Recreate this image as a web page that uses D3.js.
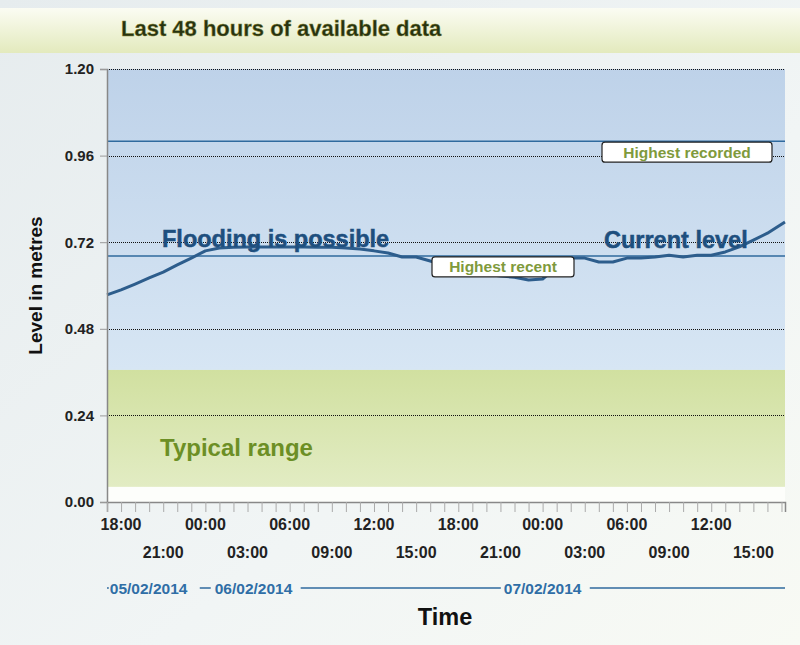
<!DOCTYPE html>
<html>
<head>
<meta charset="utf-8">
<script src="https://cdn.jsdelivr.net/npm/d3@7"></script>
<style>
  body { margin: 0; background: #fff; }
  svg { display: block; font-family: "Liberation Sans", Arial, sans-serif; }
</style>
</head>
<body>
<div id="chart"></div>
<script>
// hourly readings, 05/02/2014 17:00 -> 07/02/2014 17:00
const startTime = "2014-02-05T17:00";
const endTime = "2014-02-07T17:15";
const levels = [
  0.574, 0.588, 0.604, 0.621, 0.637, 0.657, 0.676, 0.696, 0.704, 0.706,
  0.707, 0.707, 0.707, 0.707, 0.707, 0.706, 0.706, 0.704, 0.701, 0.696,
  0.690, 0.679, 0.679, 0.668, 0.657, 0.649, 0.640, 0.632, 0.626, 0.623,
  0.615, 0.618, 0.651, 0.676, 0.676, 0.665, 0.665, 0.676, 0.676, 0.679,
  0.684, 0.679, 0.684, 0.684, 0.693, 0.707, 0.726, 0.745, 0.770
];
const lastLevel = 0.776;
const yTicks = [0.00, 0.24, 0.48, 0.72, 0.96, 1.20];
const typicalRange = [0.042, 0.366];
const highestRecorded = 1.00;
const highestRecent = 0.682;
const dateLabels = ["05/02/2014", "06/02/2014", "07/02/2014"];
const dateLabelTimes = ["2014-02-05T17:12", "2014-02-06T00:40", "2014-02-07T00:00"];

const W = 800, H = 645;
const margin = { left: 107, right: 15, top: 69, bottom: 143 };
const parse = d3.timeParse("%Y-%m-%dT%H:%M");
const t0 = parse(startTime);
const series = levels.map((v, i) => ({ t: d3.timeHour.offset(t0, i), v }));
series.push({ t: parse("2014-02-07T17:15"), v: lastLevel });

const svg = d3.select("#chart").append("svg")
  .attr("width", W).attr("height", H);

const defs = svg.append("defs");
const grad = (id, x2, y2, stops) => {
  const g = defs.append("linearGradient").attr("id", id)
    .attr("x1", 0).attr("y1", 0).attr("x2", x2).attr("y2", y2);
  stops.forEach(s => g.append("stop").attr("offset", s[0]).attr("stop-color", s[1]));
};
grad("bgGrad", 1, 1, [["0", "#e6ecee"], ["0.6", "#f1f5f5"], ["1", "#f8faf4"]]);
grad("titleGrad", 0, 1, [["0", "#fbfcf3"], ["1", "#e3eabd"]]);
grad("blueGrad", 0, 1, [["0", "#bed2e9"], ["1", "#d7e6f4"]]);
grad("greenGrad", 0, 1, [["0", "#d1e0a0"], ["1", "#e2ecc3"]]);

svg.append("rect").attr("width", W).attr("height", H).attr("fill", "url(#bgGrad)");
svg.append("rect").attr("y", 8).attr("width", W).attr("height", 45).attr("fill", "url(#titleGrad)");
svg.append("text")
  .attr("x", 121).attr("y", 36)
  .attr("font-size", 22).attr("font-weight", "bold").attr("fill", "#263212")
  .attr("stroke", "#8c8a30").attr("stroke-width", 0.4)
  .text("Last 48 hours of available data");

const x = d3.scaleTime()
  .domain([t0, parse(endTime)])
  .range([margin.left, W - margin.right]);
const y = d3.scaleLinear()
  .domain([0, 1.2])
  .range([H - margin.bottom, margin.top]);

// bands
const plot = svg.append("g");
plot.append("rect")
  .attr("x", x.range()[0]).attr("width", x.range()[1] - x.range()[0])
  .attr("y", y(1.2)).attr("height", y(0) - y(1.2))
  .attr("fill", "#fdfefb");
plot.append("rect")
  .attr("x", x.range()[0]).attr("width", x.range()[1] - x.range()[0])
  .attr("y", y(1.2)).attr("height", y(typicalRange[1]) - y(1.2))
  .attr("fill", "url(#blueGrad)");
plot.append("rect")
  .attr("x", x.range()[0]).attr("width", x.range()[1] - x.range()[0])
  .attr("y", y(typicalRange[1])).attr("height", y(typicalRange[0]) - y(typicalRange[1]))
  .attr("fill", "url(#greenGrad)");

// dotted grid
plot.selectAll(".grid").data(yTicks.filter(d => d > 0)).enter().append("line")
  .attr("x1", x.range()[0]).attr("x2", x.range()[1])
  .attr("y1", d => Math.round(y(d)) + 0.5).attr("y2", d => Math.round(y(d)) + 0.5)
  .attr("stroke", "#111").attr("stroke-width", 1)
  .style("stroke-dasharray", "1, 1");

// reference lines
[highestRecorded, highestRecent].forEach(v => {
  plot.append("line")
    .attr("x1", x.range()[0]).attr("x2", x.range()[1])
    .attr("y1", y(v)).attr("y2", y(v))
    .attr("stroke", "#2f6a9e").attr("stroke-width", 1.5);
});

// level line
plot.append("path").datum(series)
  .attr("fill", "none").attr("stroke", "#2d5d8c").attr("stroke-width", 3)
  .attr("stroke-linejoin", "round")
  .attr("d", d3.line().x(d => x(d.t)).y(d => y(d.v)).curve(d3.curveLinear));

// boxed labels
const boxLabel = (text, cx, top, w) => {
  plot.append("rect")
    .attr("x", cx - w / 2).attr("y", top).attr("width", w).attr("height", 20)
    .attr("rx", 3).attr("fill", "#fff").attr("stroke", "#222").attr("stroke-width", 1.2);
  plot.append("text")
    .attr("x", cx).attr("y", top + 15.5).attr("text-anchor", "middle")
    .attr("font-size", 15.5).attr("font-weight", "bold").attr("fill", "#7f9a3c")
    .text(text);
};
boxLabel("Highest recorded", 687, y(highestRecorded) + 1, 170);
boxLabel("Highest recent", 503, y(highestRecent) + 1, 142);

const bigLabel = (text, xx, yy, col) => {
  plot.append("text")
    .attr("x", xx).attr("y", yy)
    .attr("font-size", 23.5).attr("font-weight", "bold").attr("fill", col)
    .attr("stroke", col).attr("stroke-width", 0.5)
    .text(text);
};
bigLabel("Flooding is possible", 162, 247, "#1e4f7e");
bigLabel("Current level", 604, 248, "#1e4f7e");
plot.append("text")
  .attr("x", 160).attr("y", 456)
  .attr("font-size", 24).attr("font-weight", "bold").attr("fill", "#6c8f25")
  .text("Typical range");

// axes
const yAxis = d3.axisLeft(y).tickValues(yTicks).tickFormat(d3.format(".2f")).tickSize(7).tickPadding(6);
const gy = svg.append("g").attr("transform", `translate(${margin.left},0)`).call(yAxis);
gy.select(".domain").attr("stroke", "#888").attr("stroke-width", 1.5);
gy.selectAll(".tick line").attr("stroke", "#999");
gy.selectAll("text").attr("font-size", 15).attr("font-weight", "bold").attr("fill", "#222")
  .attr("font-family", "Liberation Sans, Arial, sans-serif");

const xAxis = d3.axisBottom(x).ticks(d3.timeHour.every(1)).tickSize(10).tickFormat("");
const gx = svg.append("g").attr("transform", `translate(0,${y(0)})`).call(xAxis);
gx.select(".domain").attr("stroke", "#888").attr("stroke-width", 1.5);
gx.selectAll(".tick line").attr("stroke", "#aaa");

const hourFmt = d3.timeFormat("%H:%M");
const labelTicks = x.ticks(d3.timeHour.every(3));
svg.append("g").selectAll("text").data(labelTicks).enter().append("text")
  .attr("x", d => x(d))
  .attr("y", d => (d.getHours() % 6 === 0 ? 530 : 558))
  .attr("text-anchor", "middle")
  .attr("font-size", 16).attr("font-weight", "bold").attr("fill", "#222")
  .text(d => hourFmt(d));

// date row: labels with connecting lines in the gaps
const dateY = 594;
const dates = dateLabels.map((d, i) => ({ text: d, t: parse(dateLabelTimes[i]) }));
const dateText = svg.append("g").selectAll("text").data(dates).enter().append("text")
  .attr("x", d => x(d.t))
  .attr("y", dateY)
  .attr("text-anchor", (d, i) => (i === 2 ? "middle" : "start"))
  .attr("font-size", 15.5).attr("font-weight", "bold").attr("fill", "#2f6ea6")
  .text(d => d.text);
const spans = [];
dateText.each(function () {
  const b = this.getBBox();
  spans.push([b.x, b.x + b.width]);
});
const gaps = [
  [x.range()[0], spans[0][0] - 1],
  [spans[0][1] + 12, spans[1][0] - 4],
  [spans[1][1] + 8, spans[2][0] - 3],
  [spans[2][1] + 8, x.range()[1]]
];
svg.append("g").selectAll("line").data(gaps).enter().append("line")
  .attr("x1", d => d[0]).attr("x2", d => d[1])
  .attr("y1", dateY - 6).attr("y2", dateY - 6)
  .attr("stroke", "#2f6a9e").attr("stroke-width", 1.5);

// axis titles
svg.append("text")
  .attr("transform", `translate(42,${(y(0) + y(1.2)) / 2}) rotate(-90)`)
  .attr("text-anchor", "middle")
  .attr("font-size", 19).attr("font-weight", "bold").attr("fill", "#111")
  .text("Level in metres");
svg.append("text")
  .attr("x", 445).attr("y", 625).attr("text-anchor", "middle")
  .attr("font-size", 23.5).attr("font-weight", "bold").attr("fill", "#111")
  .text("Time");
</script>
</body>
</html>
